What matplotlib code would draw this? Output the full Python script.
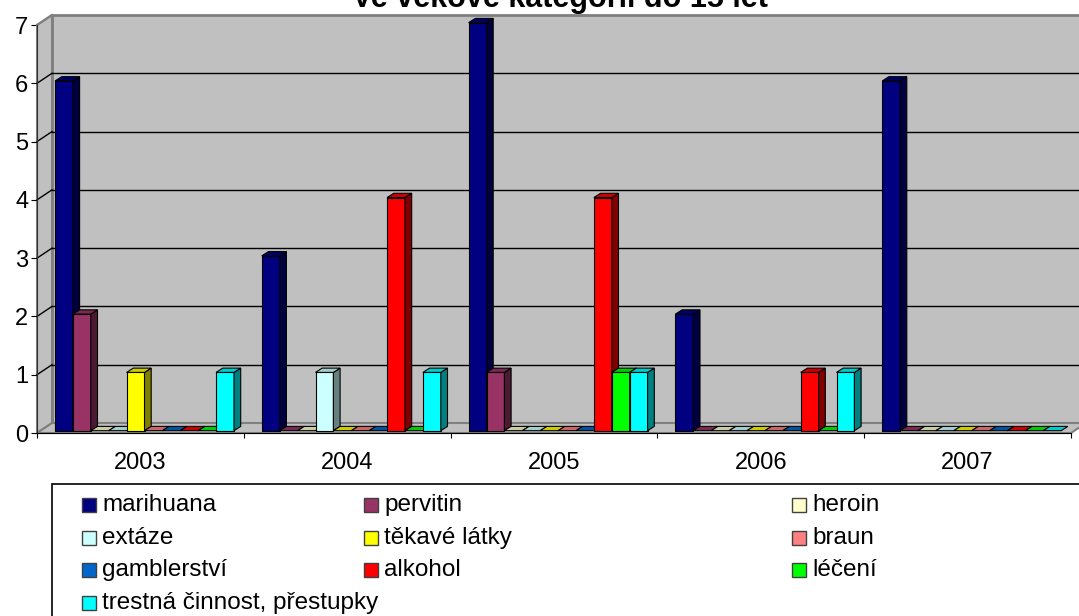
import matplotlib
matplotlib.use('Agg')
import matplotlib.pyplot as plt
from matplotlib.patches import Polygon, Rectangle
from matplotlib.colors import to_rgb

plt.rcParams['font.family'] = ['Liberation Sans', 'DejaVu Sans']

TITLE = 'Ve věkové kategorii do 15 let'
YEARS = ['2003', '2004', '2005', '2006', '2007']
SERIES = ['marihuana', 'pervitin', 'heroin', 'extáze', 'těkavé látky',
          'braun', 'gamblerství', 'alkohol', 'léčení', 'trestná činnost, přestupky']
COLORS = ['#000080', '#993366', '#FFFFCC', '#CCFFFF', '#FFFF00',
          '#FF8080', '#0066CC', '#FF0000', '#00FF00', '#00FFFF']

# values per series, one per year
marihuana = [6, 3, 7, 2, 6]
pervitin = [2, 0, 1, 0, 0]
heroin = [0, 0, 0, 0, 0]
extaze = [0, 1, 0, 0, 0]
tekave = [1, 0, 0, 0, 0]
braun = [0, 0, 0, 0, 0]
gamblerstvi = [0, 0, 0, 0, 0]
alkohol = [0, 4, 4, 1, 0]
leceni = [0, 0, 1, 0, 0]
trestna = [1, 1, 1, 1, 0]
VALUES = [marihuana, pervitin, heroin, extaze, tekave,
          braun, gamblerstvi, alkohol, leceni, trestna]

W, H = 1079, 616
# front plane of the plot in pixels
X0, X1, Y0, Y7 = 37, 1071, 433, 25
PX = (X1 - X0) / len(YEARS)   # pixels per category
PY = (Y0 - Y7) / 7            # pixels per unit


def shade(c, f):
    r, g, b = to_rgb(c)
    return (r * f, g * f, b * f)


def poly(ax, pts, fc, ec, lw, z):
    ax.add_patch(Polygon(pts, closed=True, facecolor=fc, edgecolor=ec,
                         linewidth=lw, zorder=z, clip_on=False))


def draw_bar(ax, x, w, h, color, z):
    # front plane offset and depth of the bars, converted to data units
    fx, fy = 3.5 / PX, 2.3 / PY
    dx, dy = 6.7 / PX, 4.3 / PY
    x0, y0 = x + fx, fy
    x1, y1 = x0 + w, y0 + h
    if h > 0:
        poly(ax, [(x0, y0), (x1, y0), (x1, y1), (x0, y1)], color, 'black', 0.8, z)
        poly(ax, [(x1, y0), (x1 + dx, y0 + dy), (x1 + dx, y1 + dy), (x1, y1)],
             shade(color, 0.5), 'black', 0.8, z)
    poly(ax, [(x0, y1), (x1, y1), (x1 + dx, y1 + dy), (x0 + dx, y1 + dy)],
         shade(color, 0.8), 'black', 0.8, z)


def main():
    fig = plt.figure(figsize=(W / 100, H / 100), dpi=100)
    ax = fig.add_axes([X0 / W, (H - Y0) / H, (X1 - X0) / W, (Y0 - Y7) / H])
    ax.set_xlim(0, len(YEARS))
    ax.set_ylim(0, 7)
    ax.patch.set_visible(False)

    n = len(YEARS)
    wx, wy = 15 / PX, 10 / PY
    wall = '#C0C0C0'
    edge = '#808080'
    # back wall, side wall, floor
    poly(ax, [(wx, wy), (n + wx, wy), (n + wx, 7 + wy), (wx, 7 + wy)], wall, edge, 2, 1)
    poly(ax, [(0, 0), (wx, wy), (wx, 7 + wy), (0, 7)], wall, edge, 1.5, 1)
    poly(ax, [(0, 0), (n, 0), (n + wx, wy), (wx, wy)], wall, edge, 1.5, 1)
    for k in range(1, 7):
        ax.plot([wx, n + wx], [k + wy, k + wy], color='black', lw=1, zorder=2, clip_on=False)
        ax.plot([0, wx], [k, k + wy], color='black', lw=1, zorder=2, clip_on=False)
    ax.plot([0, wx], [7, 7 + wy], color=edge, lw=1.5, zorder=2, clip_on=False)

    bw = 17.9 / PX
    start = 14.5 / PX
    for i in range(n):
        for j, vals in enumerate(VALUES):
            draw_bar(ax, i + start + j * bw, bw, vals[i], COLORS[j], 3 + i * 20 + j)

    for s in ['top', 'right']:
        ax.spines[s].set_visible(False)
    ax.spines['left'].set_color('#333333')
    ax.spines['bottom'].set_color('black')
    for s in ['left', 'bottom']:
        ax.spines[s].set_zorder(300)
    ax.set_yticks(range(8))
    ax.tick_params(axis='y', length=4.3, pad=2, labelsize=17)
    ax.set_xticks(range(n + 1))
    ax.set_xticklabels([])
    ax.set_xticks([i + 0.5 for i in range(n)], minor=True)
    ax.set_xticklabels(YEARS, minor=True)
    ax.tick_params(axis='x', which='major', length=3.6)
    ax.tick_params(axis='x', which='minor', length=0, pad=14, labelsize=17)

    fig.text(560 / W, (H - 7) / H, TITLE, ha='center', va='baseline',
             fontsize=22, fontweight='bold')

    # legend box
    top = 484
    fig.add_artist(Rectangle((52 / W, -0.1), 1.2, (H - top) / H + 0.1,
                             transform=fig.transFigure, facecolor='white',
                             edgecolor='black', linewidth=1.2))
    col_x = [82, 364, 792]
    row_y = [505, 538, 570, 603]
    for k, name in enumerate(SERIES):
        r, c = divmod(k, 3)
        x, y = col_x[c], row_y[r]
        fig.add_artist(Rectangle((x / W, (H - y - 7) / H), 14 / W, 14 / H,
                                 transform=fig.transFigure, facecolor=COLORS[k],
                                 edgecolor='#404040', linewidth=1))
        fig.text((x + 20) / W, (H - y - 6) / H, name, ha='left', va='baseline',
                 fontsize=17.5)

    fig.savefig('out.png', dpi=100)


if __name__ == '__main__':
    main()
